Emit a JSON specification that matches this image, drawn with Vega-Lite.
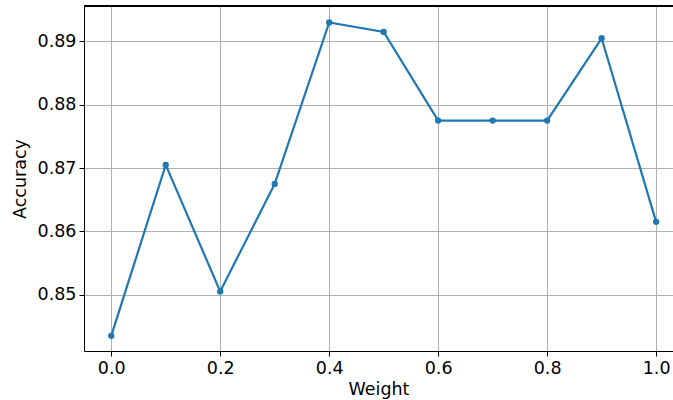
{
  "$schema": "https://vega.github.io/schema/vega-lite/v6.json",
  "autosize": "none",
  "width": 589,
  "height": 345,
  "padding": {"left": 84, "top": 6, "right": 0, "bottom": 49},
  "background": "white",
  "config": {
    "view": {"stroke": null},
    "font": "DejaVu Sans",
    "axis": {
      "labelFont": "DejaVu Sans",
      "titleFont": "DejaVu Sans",
      "labelFontSize": 17.5,
      "titleFontSize": 17.5,
      "titleFontWeight": "normal",
      "labelColor": "black",
      "titleColor": "black",
      "domainColor": "black",
      "tickColor": "black",
      "tickSize": 5,
      "domainWidth": 1,
      "tickWidth": 1,
      "grid": true,
      "gridColor": "#b0b0b0",
      "gridWidth": 1
    }
  },
  "data": {
    "values": [
      {"Weight": 0.0, "Accuracy": 0.8435},
      {"Weight": 0.1, "Accuracy": 0.8705},
      {"Weight": 0.2, "Accuracy": 0.8505},
      {"Weight": 0.3, "Accuracy": 0.8675},
      {"Weight": 0.4, "Accuracy": 0.893},
      {"Weight": 0.5, "Accuracy": 0.8915},
      {"Weight": 0.6, "Accuracy": 0.8775},
      {"Weight": 0.7, "Accuracy": 0.8775},
      {"Weight": 0.8, "Accuracy": 0.8775},
      {"Weight": 0.9, "Accuracy": 0.8905},
      {"Weight": 1.0, "Accuracy": 0.8615}
    ]
  },
  "encoding": {
    "x": {
      "field": "Weight",
      "type": "quantitative",
      "scale": {"domain": [-0.05, 1.031], "nice": false, "zero": false},
      "axis": {
        "values": [0, 0.2, 0.4, 0.6, 0.8, 1.0],
        "format": ".1f",
        "grid": true,
        "labelPadding": 3,
        "titlePadding": 4,
        "labelFlush": false
      },
      "title": "Weight"
    },
    "y": {
      "field": "Accuracy",
      "type": "quantitative",
      "scale": {"domain": [0.8411, 0.8956], "nice": false, "zero": false},
      "axis": {
        "values": [0.85, 0.86, 0.87, 0.88, 0.89],
        "format": ".2f",
        "grid": true,
        "labelPadding": 3,
        "titlePadding": 8,
        "labelFlush": false
      },
      "title": "Accuracy"
    }
  },
  "layer": [
    {
      "mark": {"type": "line", "color": "#1f77b4", "strokeWidth": 2.2, "point": {"filled": true, "size": 40, "color": "#1f77b4", "opacity": 1}}
    },
    {
      "mark": {"type": "rule", "color": "black", "strokeWidth": 1},
      "encoding": {
        "x": null,
        "y": {"datum": 0.8956, "type": "quantitative"}
      }
    }
  ]
}
